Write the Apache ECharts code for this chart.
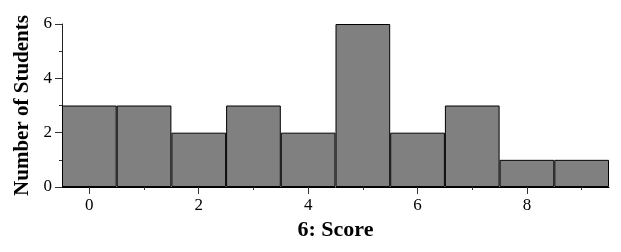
<!DOCTYPE html>
<html><head><meta charset="utf-8">
<script src="https://cdn.jsdelivr.net/npm/echarts@6/dist/echarts.min.js"></script>
<style>html,body{margin:0;padding:0;background:#fff}#c{width:621px;height:252px}</style>
</head><body><div id="c"></div>
<script>
const categories = ['0','1','2','3','4','5','6','7','8','9'];
const counts = [3, 3, 2, 3, 2, 6, 2, 3, 1, 1];
const xTitle = '6: Score';
const yTitle = 'Number of Students';
const FONT = "'Liberation Serif', 'Times New Roman', serif";
const chart = echarts.init(document.getElementById('c'), null, {renderer: 'canvas'});
chart.setOption({
  animation: false,
  backgroundColor: '#fff',
  grid: {left: 62, right: 12, top: 24, bottom: 65},
  xAxis: [
    {type: 'category', data: categories, position: 'bottom',
     axisLine: {show: true, lineStyle: {color: '#000', width: 1}},
     axisTick: {show: true, alignWithLabel: true, interval: 0, length: 3, lineStyle: {color: '#333'}},
     axisLabel: {show: false}, splitLine: {show: false}},
    {type: 'category', data: categories, position: 'bottom',
     axisLine: {show: false},
     axisTick: {show: true, alignWithLabel: true, interval: 1, length: 7, lineStyle: {color: '#333'}},
     axisLabel: {show: true, interval: 1, margin: 10, fontSize: 17, fontFamily: FONT, color: '#000'},
     name: xTitle, nameLocation: 'middle', nameGap: 32,
     nameTextStyle: {fontSize: 22, fontWeight: 'bold', fontFamily: FONT, color: '#000'},
     splitLine: {show: false}}
  ],
  yAxis: {
    type: 'value', min: 0, max: 6, interval: 2,
    axisLine: {show: true, lineStyle: {color: '#222', width: 1}},
    axisTick: {show: true, length: 7, lineStyle: {color: '#333'}},
    minorTick: {show: true, splitNumber: 2, length: 3, lineStyle: {color: '#333'}},
    axisLabel: {margin: 10, fontSize: 17, fontFamily: FONT, color: '#000'},
    splitLine: {show: false},
    name: yTitle, nameLocation: 'middle', nameGap: 25,
    nameTextStyle: {fontSize: 21, fontWeight: 'bold', fontFamily: FONT, color: '#000'}
  },
  series: [{
    type: 'bar', xAxisIndex: 0, data: counts, barWidth: '100%', barCategoryGap: 0,
    itemStyle: {color: '#808080', borderColor: '#000', borderWidth: 1}
  }]
});
</script></body></html>
